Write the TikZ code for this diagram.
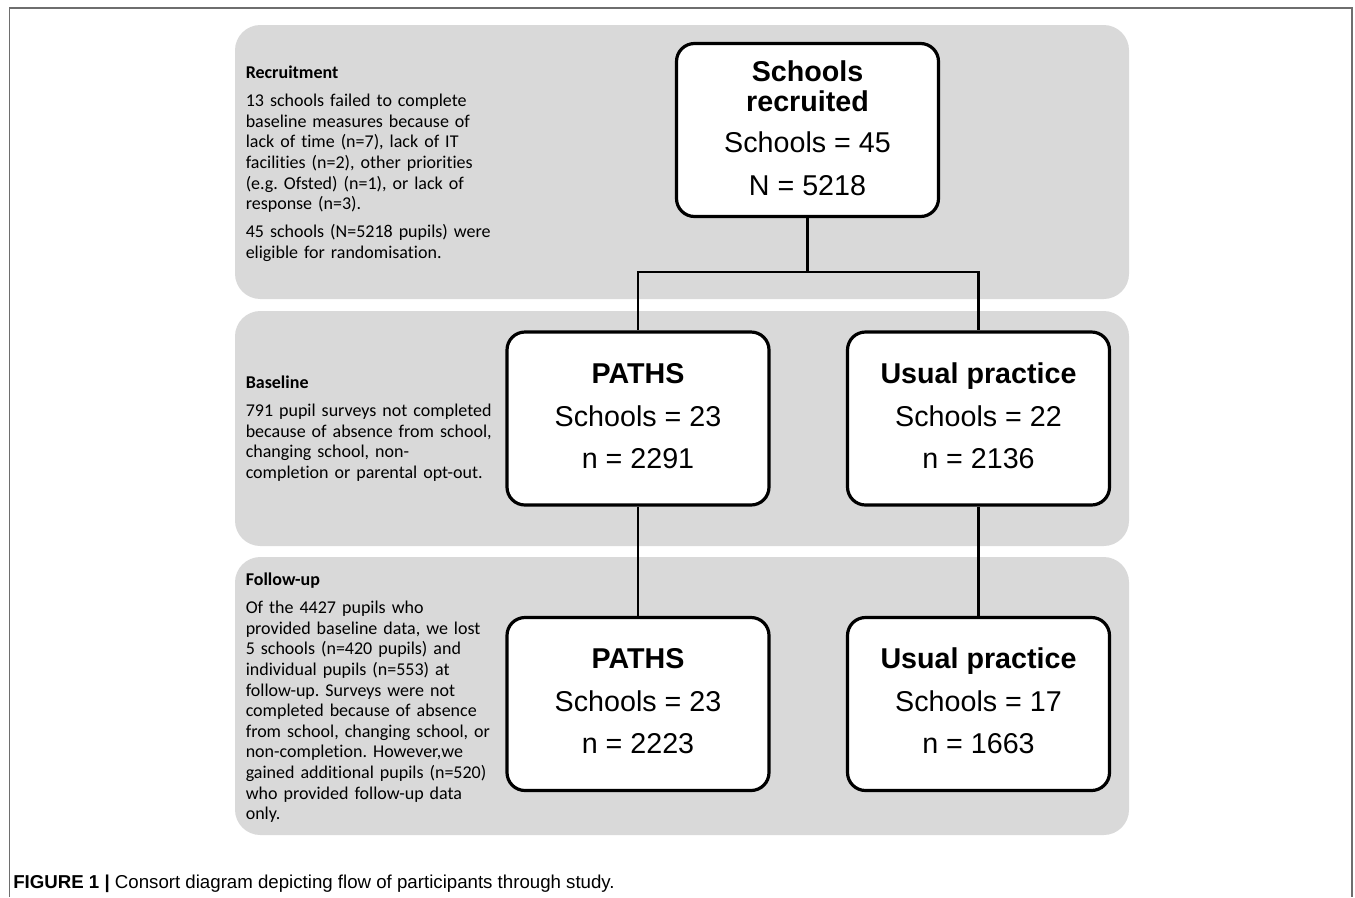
\documentclass[tikz,border=0pt]{standalone}
\usepackage{fontspec}
\setmainfont{Liberation Sans}
\newfontfamily\calfont[Ligatures={NoCommon}]{Carlito}
\definecolor{panelgray}{HTML}{D9D9D9}
\definecolor{framegray}{HTML}{6E6E6E}
\begin{document}
\frenchspacing
\begin{tikzpicture}[x=0.75pt,y=-0.75pt,
  panel/.style={fill=panelgray, draw=none, rounded corners=19pt},
  box/.style={draw=black, line width=2.4pt, fill=white, rounded corners=13.5pt,
    minimum width=196.5pt, minimum height=129.75pt, inner sep=0pt},
  conn/.style={draw=black, line width=2.2pt},
  btext/.style={font=\fontsize{21.5}{24}\selectfont, anchor=base, inner sep=0pt},
  ltext/.style={font=\calfont\fontsize{13.5}{15.45}\selectfont\frenchspacing, anchor=base west,
    inner sep=0pt, align=left, text width=240pt},
  captext/.style={font=\fontsize{14}{16}\selectfont, anchor=base west, inner sep=0pt}
]
\useasboundingbox (0,0) rectangle (1355,897);
% frame
\draw[framegray, line width=0.8pt] (9.3,897) -- (9.3,8) -- (1352,8) -- (1352,897);
% panels
\path[panel] (235,25) rectangle (1129,299);
\path[panel] (235,311) rectangle (1129,546);
\path[panel] (235,557) rectangle (1129,835);

% boxes
\node[box] (top) at (807.5,130) {};
\node[box] (p1) at (638,418.5) {};
\node[box] (u1) at (978.5,418.5) {};
\node[box] (p2) at (638,704) {};
\node[box] (u2) at (978.5,704) {};

% connectors
\coordinate (j) at (807.5,272);
\draw[conn] (top.south) -- (j);
\draw[conn] (j) -| (p1.north);
\draw[conn] (j) -| (u1.north);
\draw[conn] (p1.south) -- (p2.north);
\draw[conn] (u1.south) -- (u2.north);

% box texts
\node[btext] (top1) at (807.5,81.7) {\bfseries Schools};
\node[btext] (top2) at (807.5,111.7) {\bfseries recruited};
\node[btext] (top3) at (807.5,152.7) {Schools = 45};
\node[btext] (top4) at (807.5,195) {N = 5218};

\node[btext] (p1a) at (638,383.5) {\bfseries PATHS};
\node[btext] (p1b) at (638,426.5) {Schools = 23};
\node[btext] (p1c) at (638,468.5) {n = 2291};

\node[btext] (u1a) at (978.5,383.5) {\bfseries Usual practice};
\node[btext] (u1b) at (978.5,426.5) {Schools = 22};
\node[btext] (u1c) at (978.5,468.5) {n = 2136};

\node[btext] (p2a) at (638,668.5) {\bfseries PATHS};
\node[btext] (p2b) at (638,711.5) {Schools = 23};
\node[btext] (p2c) at (638,753.5) {n = 2223};

\node[btext] (u2a) at (978.5,668.5) {\bfseries Usual practice};
\node[btext] (u2b) at (978.5,711.5) {Schools = 17};
\node[btext] (u2c) at (978.5,753.5) {n = 1663};

% left texts
\node[ltext] (rec) at (245.5,78) {\textbf{Recruitment}\\[6pt]
13 schools failed to complete\\
baseline measures because of\\
lack of time (n=7), lack of IT\\
facilities (n=2), other priorities\\
(e.g. Ofsted) (n=1), or lack of\\
response (n=3).\\[5.6pt]
45 schools (N=5218 pupils) were\\
eligible for randomisation.};

\node[ltext] (bas) at (245.5,388) {\textbf{Baseline}\\[6pt]
791 pupil surveys not completed\\
because of absence from school,\\
changing school, non-\\
completion or parental opt-out.};

\node[ltext] (fol) at (245.5,585) {\textbf{Follow-up}\\[6pt]
Of the 4427 pupils who\\
provided baseline data, we lost\\
5 schools (n=420 pupils) and\\
individual pupils (n=553) at\\
follow-up. Surveys were not\\
completed because of absence\\
from school, changing school, or\\
non-completion. However,we\\
gained additional pupils (n=520)\\
who provided follow-up data\\
only.};

% caption
\node[captext] (cap) at (13,888) {\textbf{FIGURE 1 |} Consort diagram depicting flow of participants through study.};
\end{tikzpicture}
\end{document}
